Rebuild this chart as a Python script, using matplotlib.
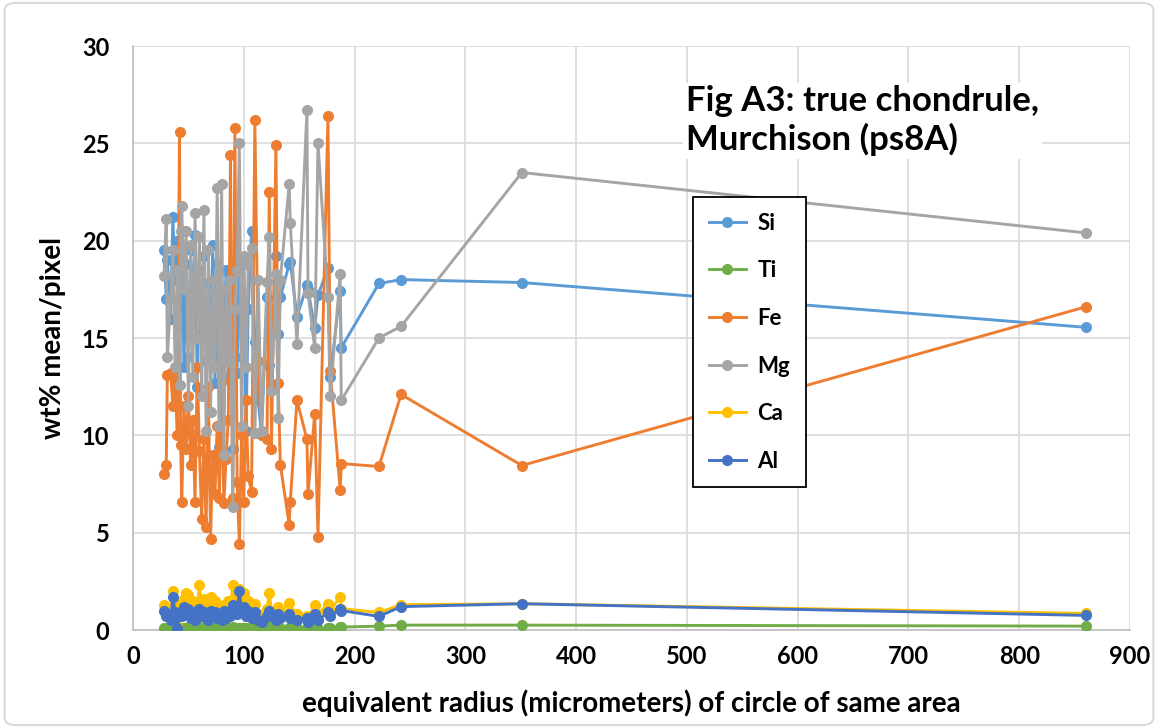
import matplotlib
matplotlib.use("Agg")
import matplotlib.pyplot as plt
from matplotlib.patches import FancyBboxPatch

plt.rcParams['font.family'] = ['Lato', 'DejaVu Sans']

# equivalent radius (micrometers)
radius = [28, 30, 31, 34, 36, 38, 40, 42, 43, 44, 46, 48, 50, 52, 54, 56, 58, 60,
          62, 64, 66, 68, 70, 72, 74, 76, 78, 80, 82, 84, 86, 88, 90, 92, 94, 96,
          98, 100, 102, 104, 107, 110, 113, 116, 121, 123, 125, 129, 131, 133,
          141, 142, 148, 157, 158, 164, 167, 176, 178, 187, 188, 222, 242, 351, 860]

si = [19.5, 17.0, 19.0, 16.0, 21.2, 18.0, 20.0, 15.5, 16.8, 20.5, 13.5, 18.8, 14.0, 19.5,
      16.0, 20.3, 12.5, 18.5, 15.2, 19.2, 13.8, 17.8, 14.2, 19.8, 12.7, 18.8, 9.4, 17.5,
      15.0, 18.5, 13.0, 17.0, 9.3, 18.2, 13.2, 19.0, 14.0, 18.8, 10.2, 16.5, 20.5, 14.8,
      11.8, 10.0, 17.1, 13.6, 12.5, 19.2, 15.2, 17.1, 18.8, 18.9, 16.1, 17.7, 17.5, 15.5,
      17.2, 18.6, 13.0, 17.4, 14.5, 17.8, 18.0, 17.85, 15.55]

ti = [0.10, 0.10, 0.10, 0.05, 0.15, 0.10, 0.05, 0.10, 0.10, 0.10, 0.10, 0.10, 0.15, 0.10,
      0.10, 0.05, 0.10, 0.15, 0.10, 0.10, 0.05, 0.10, 0.10, 0.10, 0.10, 0.05, 0.10, 0.10,
      0.00, 0.10, 0.10, 0.10, 0.15, 0.10, 0.05, 0.10, 0.10, 0.10, 0.10, 0.10, 0.10, 0.15,
      0.10, 0.10, 0.15, 0.15, 0.10, 0.10, 0.10, 0.10, 0.10, 0.10, 0.10, 0.10, 0.10, 0.10,
      0.05, 0.10, 0.10, 0.15, 0.15, 0.20, 0.25, 0.25, 0.20]

fe = [8.0, 8.5, 13.1, 13.2, 11.5, 12.8, 10.0, 25.6, 9.5, 6.6, 11.5, 9.3, 12.0, 8.5,
      10.8, 6.6, 13.5, 9.2, 5.7, 9.8, 5.3, 12.5, 4.7, 9.0, 7.0, 10.5, 6.8, 12.8,
      6.5, 8.8, 10.8, 24.4, 6.8, 25.8, 7.6, 4.4, 10.0, 6.6, 11.8, 7.9, 7.1, 26.2,
      13.8, 10.0, 9.8, 22.5, 9.3, 24.9, 12.7, 8.5, 5.4, 6.6, 11.8, 9.8, 7.0, 11.1,
      4.8, 26.4, 13.3, 7.2, 8.55, 8.4, 12.1, 8.45, 16.6]

mg = [18.2, 21.1, 14.0, 17.0, 19.5, 13.5, 18.5, 12.6, 20.5, 21.8, 17.5, 20.5, 11.5, 19.8,
      13.0, 21.4, 15.0, 20.2, 12.0, 21.6, 10.2, 19.5, 11.2, 18.0, 13.5, 22.7, 10.5, 22.9,
      9.0, 17.5, 13.8, 18.0, 6.3, 16.5, 18.5, 25.0, 10.5, 19.2, 13.5, 18.8, 19.6, 10.1,
      18.0, 10.2, 17.9, 20.2, 12.3, 18.3, 10.9, 18.0, 22.9, 20.9, 14.7, 26.7, 17.3, 14.5,
      25.0, 17.1, 12.0, 18.3, 11.8, 15.0, 15.6, 23.5, 20.4]

ca = [1.3, 0.9, 1.1, 0.6, 2.0, 1.4, 0.2, 1.2, 0.9, 1.0, 1.6, 1.9, 1.8, 1.0,
      1.5, 0.7, 1.3, 2.3, 0.9, 1.6, 1.1, 0.8, 1.7, 1.0, 1.5, 0.9, 1.2, 1.0,
      1.3, 0.8, 1.5, 1.1, 2.3, 1.7, 1.1, 2.1, 1.4, 1.9, 1.0, 1.5, 0.9, 1.35,
      0.8, 0.6, 1.1, 1.9, 1.0, 0.8, 1.2, 0.9, 1.4, 0.9, 0.8, 0.7, 0.5, 1.3,
      0.8, 1.35, 1.0, 1.7, 1.1, 0.9, 1.3, 1.35, 0.85]

al = [1.0, 0.7, 0.8, 0.5, 1.7, 0.9, 0.1, 0.8, 0.7, 0.7, 1.2, 0.9, 1.1, 0.6,
      0.8, 0.5, 1.0, 1.1, 0.7, 0.9, 0.6, 0.5, 1.0, 0.7, 0.9, 0.6, 0.8, 0.5,
      1.0, 0.6, 0.9, 0.7, 1.3, 1.1, 0.8, 2.0, 1.0, 1.2, 0.7, 1.0, 0.6, 0.9,
      0.5, 0.4, 0.7, 1.0, 0.7, 0.5, 0.8, 0.6, 0.8, 0.6, 0.5, 0.6, 0.4, 0.8,
      0.5, 0.9, 0.7, 1.1, 1.0, 0.7, 1.2, 1.35, 0.75]

series_names = ['Si', 'Ti', 'Fe', 'Mg', 'Ca', 'Al']
series_values = [si, ti, fe, mg, ca, al]
colors = ['#5B9BD5', '#70AD47', '#ED7D31', '#A5A5A5', '#FFC000', '#4472C4']

x_ticks = [0, 100, 200, 300, 400, 500, 600, 700, 800, 900]
y_ticks = [0, 5, 10, 15, 20, 25, 30]

fig = plt.figure(figsize=(11.58, 7.28), dpi=100)
ax = fig.add_axes([133/1158, 1-630/728, (1130-133)/1158, (630-46)/728])

for name, vals, c in zip(series_names, series_values, colors):
    ax.plot(radius, vals, color=c, lw=2.1, marker='o', markersize=8,
            markeredgewidth=0, label=name, zorder=3)

ax.set_xlim(0, 900)
ax.set_ylim(0, 30)
ax.set_xticks(x_ticks)
ax.set_yticks(y_ticks)
ax.grid(True, color='#D9D9D9', lw=1.2, zorder=0)
ax.set_axisbelow(True)
for s in ['top', 'right']:
    ax.spines[s].set_visible(False)
for s in ['left', 'bottom']:
    ax.spines[s].set_color('#BFBFBF')
    ax.spines[s].set_linewidth(1.2)
ax.tick_params(axis='y', length=0, pad=17, labelsize=17)
ax.tick_params(axis='x', length=0, pad=11, labelsize=17)
for lab in ax.get_xticklabels() + ax.get_yticklabels():
    lab.set_fontweight('bold')

ax.set_xlabel('equivalent radius (micrometers) of circle of same area',
              fontsize=20, fontweight='bold', labelpad=15)
ax.set_ylabel('wt% mean/pixel', fontsize=20, fontweight='bold', labelpad=11)

ax.text(686/1158, 1-150/728, 'Fig A3: true chondrule,\nMurchison (ps8A)',
        transform=fig.transFigure, fontsize=25, fontweight='bold',
        ha='left', va='baseline', linespacing=1.2, zorder=6,
        bbox=dict(facecolor='white', edgecolor='none', pad=2))

leg = ax.legend(loc='upper left', bbox_to_anchor=((693-133)/997, (630-197)/584),
                frameon=True, fancybox=False, edgecolor='black', framealpha=1,
                prop={'weight': 'bold', 'size': 16}, labelspacing=1.2,
                handlelength=1.7, handletextpad=0.5, borderpad=0.7,
                borderaxespad=0)
leg.get_frame().set_linewidth(1.3)
leg.set_zorder(7)

fig.patches.append(FancyBboxPatch((0.004, 0.004), 0.992, 0.992,
                                  boxstyle='round,pad=0,rounding_size=0.01',
                                  transform=fig.transFigure, facecolor='none',
                                  edgecolor='#D9D9D9', lw=1.5))

fig.savefig('out.png', dpi=100)
